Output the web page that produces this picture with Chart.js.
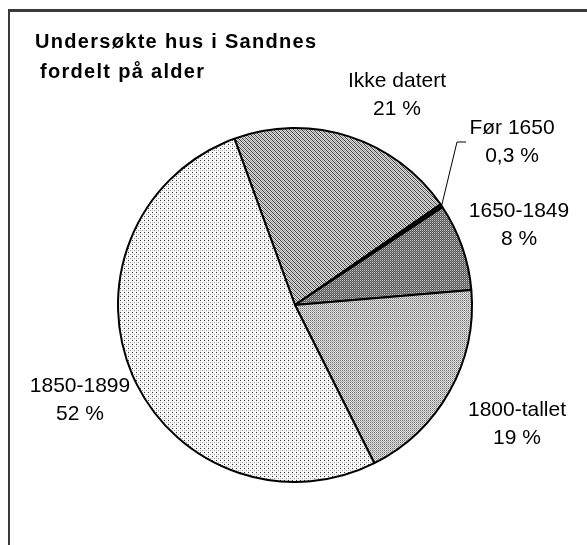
<!DOCTYPE html>
<html>
<head>
<meta charset="utf-8">
<script src="https://cdn.jsdelivr.net/npm/chart.js@4.4.1/dist/chart.umd.min.js"></script>
<style>
  html, body { margin: 0; padding: 0; background: #fff; }
  #wrap { position: relative; width: 587px; height: 545px; overflow: hidden; }
  #frame {
    position: absolute; left: 8px; top: 9px; width: 620px; height: 600px;
    border-left: 2px solid #3a3a3a; border-top: 3px solid #3a3a3a;
  }
  #title {
    position: absolute; left: 35px; top: 26px;
    font: bold 20px 'Liberation Sans', Arial, sans-serif;
    line-height: 30px; letter-spacing: 1.3px; color: #000;
  }
  #title .l2 { padding-left: 5px; }
  canvas { position: absolute; left: 0; top: 0; }
</style>
</head>
<body>
<div id="wrap">
  <div id="frame"></div>
  <canvas id="pie" width="587" height="545"></canvas>
  <div id="title">Undersøkte hus i Sandnes<br><span class="l2">fordelt på alder</span></div>
</div>
<script>
/* data */
const CATEGORIES = ['Ikke datert', 'Før 1650', '1650-1849', '1800-tallet', '1850-1899'];
const SHARES     = [21, 0.3, 8, 19, 52];   // percent

// label anchors, offset from pie centre (first line baseline)
const LABEL_OFFSETS = [[102, -218], [217, -171], [224, -88], [222, 111], [-215, 87]];

// ── fill patterns (grey dot screens like the old print) ──
function makePattern(w, h, bg, dots) {
  const c = document.createElement('canvas');
  c.width = w; c.height = h;
  const g = c.getContext('2d');
  g.fillStyle = bg; g.fillRect(0, 0, w, h);
  dots.forEach(([x, y, col]) => { g.fillStyle = col; g.fillRect(x, y, 1, 1); });
  return g.createPattern(c, 'repeat');
}

const ctx = document.getElementById('pie').getContext('2d');

const FILLS = [
  // Ikke datert: diagonal screen
  makePattern(4, 4, '#dedede', [[0,0,'#3c3c3c'],[1,1,'#3c3c3c'],[2,2,'#3c3c3c'],[3,3,'#3c3c3c'],[2,0,'#999'],[3,1,'#999'],[0,2,'#999'],[1,3,'#999']]),
  '#111',
  // 1650-1849: dark screen
  makePattern(2, 2, '#555', [[0,0,'#c8c8c8'],[1,1,'#888']]),
  // 1800-tallet: medium screen
  makePattern(2, 2, '#e2e2e2', [[0,0,'#707070'],[1,1,'#aaa']]),
  // 1850-1899: light sparse dots
  makePattern(4, 4, '#f8f8f8', [[0,0,'#333'],[2,2,'#9a9a9a'],[0,2,'#c8c8c8']]),
];

const fmtPct = v => String(v).replace('.', ',') + ' %';

const labelPlugin = {
  id: 'sliceLabels',
  afterDraw(chart) {
    const c = chart.ctx;
    const arcs = chart.getDatasetMeta(0).data;
    const cx = arcs[0].x, cy = arcs[0].y;
    c.save();
    c.font = '21px "Liberation Sans", Arial, sans-serif';
    c.fillStyle = '#000';
    c.textAlign = 'center';
    c.textBaseline = 'alphabetic';
    CATEGORIES.forEach((name, i) => {
      const [dx, dy] = LABEL_OFFSETS[i];
      c.fillText(name, cx + dx, cy + dy);
      c.fillText(fmtPct(SHARES[i]), cx + dx, cy + dy + 28);
    });
    // leader line for the tiny slice
    const a = arcs[1];
    const mid = (a.startAngle + a.endAngle) / 2;
    const r = a.outerRadius;
    const [lx, ly] = LABEL_OFFSETS[1];
    c.strokeStyle = '#000';
    c.lineWidth = 1;
    c.beginPath();
    c.moveTo(cx + Math.cos(mid) * r, cy + Math.sin(mid) * r);
    c.lineTo(cx + lx - 55, cy + ly + 8);
    c.lineTo(cx + lx - 46, cy + ly + 8);
    c.stroke();
    c.restore();
  }
};

new Chart(ctx, {
  type: 'pie',
  data: {
    labels: CATEGORIES,
    datasets: [{
      data: SHARES,
      backgroundColor: FILLS,
      borderColor: '#000',
      borderWidth: 2,
      borderAlign: 'center',
    }],
  },
  options: {
    responsive: false,
    animation: false,
    rotation: -20,
    layout: { padding: { left: 117, right: 114, top: 127, bottom: 62 } },
    plugins: {
      legend: { display: false },
      tooltip: { enabled: false },
      title: { display: false },
    },
  },
  plugins: [labelPlugin],
});
</script>
</body>
</html>
